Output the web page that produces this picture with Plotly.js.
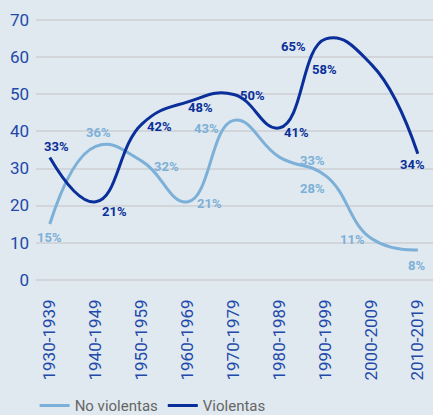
<!DOCTYPE html>
<html>
<head>
<meta charset="utf-8">
<script src="https://cdn.plot.ly/plotly-3.0.1.min.js"></script>
<style>
html,body{margin:0;padding:0;background:#dfe9ef;}
#chart{width:433px;height:415px;}
</style>
</head>
<body>
<div id="chart"></div>
<script>
const categories = ["1930-1939","1940-1949","1950-1959","1960-1969","1970-1979","1980-1989","1990-1999","2000-2009","2010-2019"];
const noViolentas = [15, 36, 32, 21, 43, 33, 28, 11, 8];
const violentas = [33, 21, 42, 48, 50, 41, 65, 58, 34];
const seriesNames = ["No violentas", "Violentas"];

// label pixel offsets (style only)
const offNo = [[0,-13],[3,14],[25,-5],[22,-2],[-27,-8],[33,-3],[-13,-13],[-19,-1],[-1,-16]];
const offVi = [[7,11],[19,-10],[18,-2],[13,-6],[19,-1],[17,-5],[-32,-8],[-47,-5],[-5,-11]];

const light = "#7db0d8";
const dark = "#0a2f9a";
const blueText = "#2248aa";

const traces = [
  {x: categories, y: noViolentas, name: seriesNames[0], type: "scatter", mode: "lines",
   line: {color: light, width: 3, shape: "spline", smoothing: 1.3}},
  {x: categories, y: violentas, name: seriesNames[1], type: "scatter", mode: "lines",
   line: {color: dark, width: 3, shape: "spline", smoothing: 1.3}}
];

const annotations = [];
function addLabels(vals, offs, color) {
  vals.forEach((v, i) => {
    annotations.push({x: categories[i], y: v, text: v + "%", showarrow: false,
      xshift: offs[i][0], yshift: offs[i][1],
      font: {family: "Roboto, sans-serif", size: 13, color: color, weight: 700}});
  });
}
addLabels(noViolentas, offNo, light);
addLabels(violentas, offVi, dark);

const layout = {
  width: 433, height: 415,
  paper_bgcolor: "#dfe9ef", plot_bgcolor: "#dfe9ef",
  margin: {l: 36, r: 0, t: 13, b: 128},
  font: {family: "Roboto, sans-serif"},
  xaxis: {type: "category", range: [-0.3, 8.33], showgrid: false, zeroline: false, showline: false,
    automargin: false, tickangle: -90, ticks: "", ticklabelstandoff: 8,
    tickfont: {family: "Roboto, sans-serif", size: 17, color: blueText}},
  yaxis: {range: [-2, 72], dtick: 10, tick0: 0, showgrid: true, gridcolor: "#d2d6da", gridwidth: 2,
    automargin: false, zeroline: false, showline: false, ticks: "", ticklabelstandoff: 6,
    tickfont: {family: "Roboto, sans-serif", size: 17, color: blueText}},
  showlegend: true,
  legend: {orientation: "h", xref: "container", x: 0.08, xanchor: "left",
    yref: "container", y: 0.022, yanchor: "middle",
    font: {family: "Roboto, sans-serif", size: 15, color: "#666666"}, bgcolor: "rgba(0,0,0,0)"},
  annotations: annotations
};

Plotly.newPlot("chart", traces, layout, {displayModeBar: false, staticPlot: true});
</script>
</body>
</html>
